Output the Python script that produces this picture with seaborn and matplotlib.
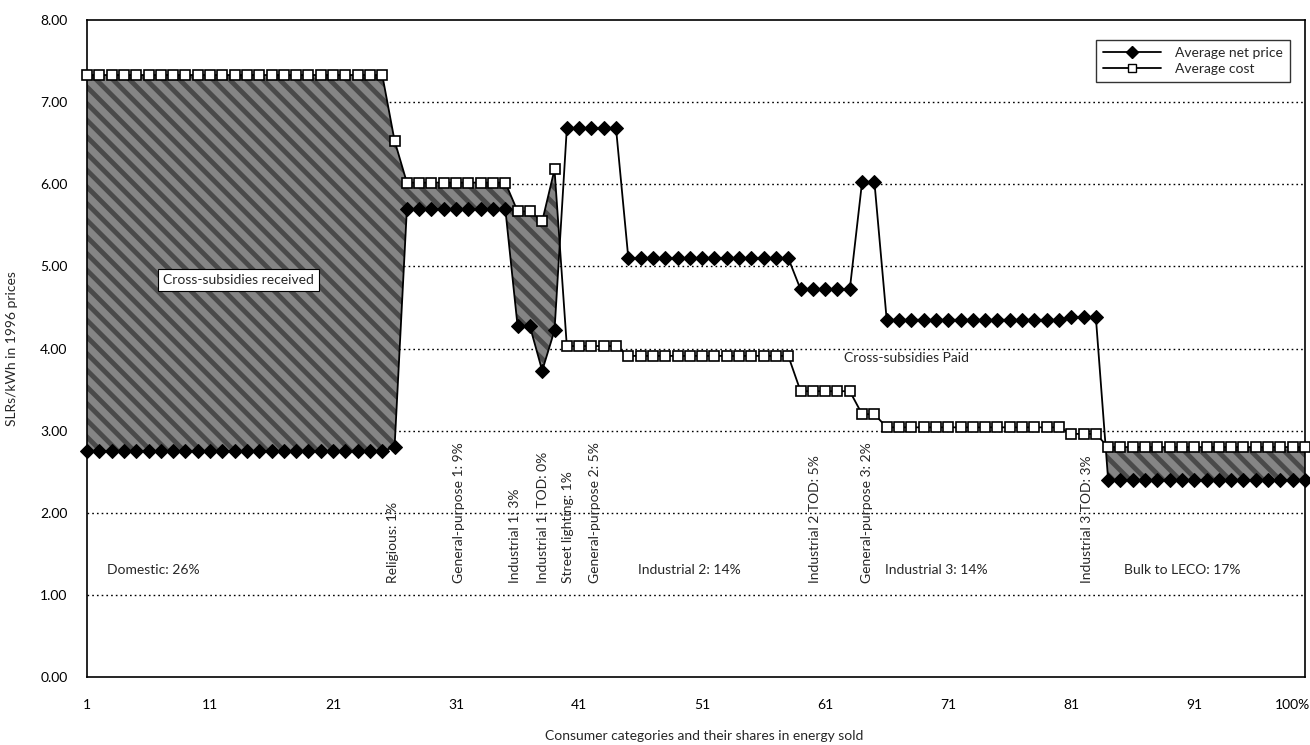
import numpy as np
import pandas as pd
import matplotlib
matplotlib.use("Agg")
import matplotlib.pyplot as plt
import matplotlib.transforms as mtransforms
import seaborn as sns
from matplotlib.lines import Line2D

# Energy sold, one point per percentile (1..100), ordered by consumer category
net_price = ([2.75] * 25 + [2.80] + [5.70] * 9 + [4.27] * 2 + [3.73] + [4.22]
             + [6.68] * 5 + [5.10] * 14 + [4.72] * 5 + [6.03] * 2
             + [4.35] * 15 + [4.38] * 3 + [2.40] * 17)
avg_cost = ([7.33] * 25 + [6.53] + [6.02] * 9 + [5.67] * 2 + [5.55] + [6.18]
            + [4.03] * 5 + [3.91] * 14 + [3.48] * 5 + [3.20] * 2
            + [3.04] * 15 + [2.96] * 3 + [2.80] * 17)
share = list(range(1, len(net_price) + 1))

x_ticks = [1, 11, 21, 31, 41, 51, 61, 71, 81, 91, 100]
x_tick_labels = ["1", "11", "21", "31", "41", "51", "61", "71", "81", "91", "100%"]
y_ticks = [0, 1, 2, 3, 4, 5, 6, 7, 8]

vertical_labels = ["Religious: 1%", "General-purpose 1: 9%", "Industrial 1: 3%",
                   "Industrial 1: TOD: 0%", "Street lighting: 1%",
                   "General-purpose 2: 5%", "Industrial 2 TOD: 5%",
                   "General-purpose 3: 2%", "Industrial 3 TOD: 3%"]
horizontal_labels = ["Domestic: 26%", "Industrial 2: 14%", "Industrial 3: 14%",
                     "Bulk to LECO: 17%"]

df = pd.DataFrame({"share": share, "price": net_price, "cost": avg_cost})

sns.set_style("white")
plt.rcParams["font.family"] = ["Lato", "DejaVu Sans"]
plt.rcParams["hatch.linewidth"] = 3.5

W, H = 1310, 745
fig = plt.figure(figsize=(W / 100, H / 100), dpi=100)
left, right, top, bottom = 87, 1305, 20, 677
ax = fig.add_axes([left / W, 1 - bottom / H, (right - left) / W, (bottom - top) / H])

# dotted horizontal gridlines
for yv in y_ticks[1:-1]:
    ax.axhline(yv, color="black", linewidth=1.0, linestyle=(0, (1.2, 2.2)), zorder=0.5)

# shaded area where cost exceeds the net price
p = df["price"].to_numpy()
c = df["cost"].to_numpy()
ax.fill_between(df["share"], p, c, where=c > p, interpolate=True,
                facecolor="#858585", edgecolor="#4a4a4a", hatch="\\\\",
                linewidth=0, zorder=1)

sns.lineplot(data=df, x="share", y="price", ax=ax, color="black", linewidth=1.3,
             marker="D", markersize=7, markerfacecolor="black",
             markeredgecolor="black", clip_on=False, zorder=3)
sns.lineplot(data=df, x="share", y="cost", ax=ax, color="black", linewidth=1.3,
             marker="s", markersize=6.5, markerfacecolor="white",
             markeredgecolor="black", markeredgewidth=1.2, clip_on=False, zorder=3)

ax.set_xlim(1, 100)
ax.set_ylim(0, 8)
ax.set_xticks(x_ticks)
ax.set_xticklabels(x_tick_labels)
ax.set_yticks(y_ticks)
ax.set_yticklabels([f"{v:.2f}" for v in y_ticks])
ax.tick_params(axis="both", direction="out", length=8, width=1.2, colors="black",
               labelsize=10)
ax.tick_params(axis="x", pad=8)
ax.tick_params(axis="y", pad=6)
last_lbl = ax.get_xticklabels()[-1]
last_lbl.set_horizontalalignment("right")
last_lbl.set_transform(last_lbl.get_transform()
                       + mtransforms.ScaledTranslation(5 / 100, 0, fig.dpi_scale_trans))
for s in ax.spines.values():
    s.set_color("black")
    s.set_linewidth(1.2)

ax.set_ylabel("SLRs/kWh in 1996 prices", fontsize=10, labelpad=16)
ax.set_xlabel("Consumer categories and their shares in energy sold", fontsize=10)
ax.xaxis.set_label_coords((704 - left) / (right - left), -(730 - bottom) / (bottom - top))

# category annotations
v_pos = [25.9, 31.2, 35.8, 38.1, 40.1, 42.3, 60.2, 64.4, 82.3]
for txt, xv in zip(vertical_labels, v_pos):
    ax.text(xv, 1.15, txt, rotation=90, ha="center", va="bottom", fontsize=10)
h_pos = [2.6, 45.8, 65.9, 85.3]
for txt, xv in zip(horizontal_labels, h_pos):
    ax.text(xv, 1.30, txt, ha="left", va="center", fontsize=10)

ax.text(13.3, 4.83, "Cross-subsidies received", ha="center", va="center", fontsize=10,
        zorder=5, bbox=dict(boxstyle="square,pad=0.35", facecolor="white",
                            edgecolor="black", linewidth=0.8))
ax.text(67.6, 3.88, "Cross-subsidies Paid", ha="center", va="center", fontsize=10,
        zorder=5)

handles = [
    Line2D([], [], color="black", linewidth=1.3, marker="D", markersize=6,
           markerfacecolor="black", markeredgecolor="black"),
    Line2D([], [], color="black", linewidth=1.3, marker="s", markersize=5.5,
           markerfacecolor="white", markeredgecolor="black"),
]
leg = ax.legend(handles, ["Average net price", "Average cost"], loc="upper right",
                bbox_to_anchor=(0.9935, 0.98), frameon=True, fancybox=False,
                fontsize=10, handlelength=4.2, handletextpad=1.0, borderpad=0.5,
                labelspacing=0.3, edgecolor="black")
leg.get_frame().set_linewidth(1.0)
leg.set_zorder(6)

fig.savefig("out.png", dpi=100)
